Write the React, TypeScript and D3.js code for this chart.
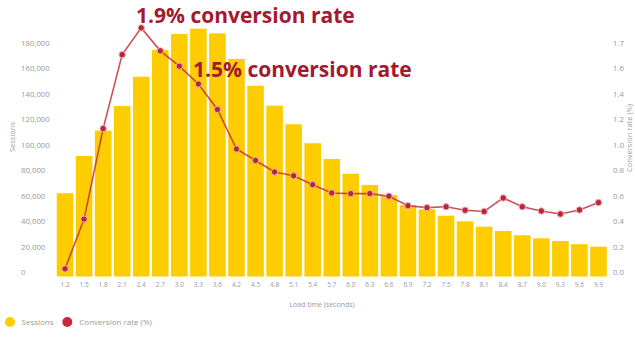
import React from "react";
import * as d3 from "d3";

const loadTimes = ["1.2","1.5","1.8","2.1","2.4","2.7","3.0","3.3","3.6","4.2","4.5","4.8","5.1","5.4","5.7","6.0","6.3","6.6","6.9","7.2","7.5","7.8","8.1","8.4","8.7","9.0","9.3","9.6","9.9"];
const sessions = [65300,94500,114400,133700,156700,177600,190200,194400,190700,170600,149600,134000,119400,104500,92200,80600,71800,63900,56100,52700,47700,43300,39100,35700,32300,30000,27800,25300,23400];
const conversion = [0.06,0.45,1.16,1.74,1.95,1.77,1.65,1.51,1.31,1.0,0.91,0.82,0.79,0.72,0.655,0.65,0.65,0.63,0.555,0.54,0.547,0.52,0.51,0.616,0.547,0.514,0.49,0.522,0.58];
const leftTicks = [0,20000,40000,60000,80000,100000,120000,140000,160000,180000];
const rightTicks = [0,0.2,0.4,0.6,0.8,1.0,1.2,1.4,1.6,1.8];
const rightTickLabels = ["0.0","0.2","0.4","0.6","0.8","1.0","1.2","1.4","1.6","1.7"];
const annotations = [
  { text: "1.9% conversion rate", idx: 4 },
  { text: "1.5% conversion rate", idx: 7 },
];

const W = 635, H = 341;
const BAR = "#fdcd00";
const RED = "#c62f3c";
const DARKRED = "#a4192d";
const GREY = "#999999";
const FONT = "'Open Sans', sans-serif";

export default function App() {
  const x = d3.scaleBand<string>().domain(loadTimes).range([55.5, 608]).paddingInner(0.13).paddingOuter(0.065);
  const yL = d3.scaleLinear().domain([0, 180000]).range([276.5, 47]);
  const yR = d3.scaleLinear().domain([0, 1.8]).range([276.5, 47]);
  const cx = (i: number) => (x(loadTimes[i]) as number) + x.bandwidth() / 2;
  const line = d3.line<number>().x((_, i) => cx(i)).y((d) => yR(d));
  const fmt = d3.format(",");

  const annPos = [
    { x: 136, y: 22.5 },
    { x: 193, y: 77 },
  ];

  return (
    <svg width={W} height={H} style={{ position: "fixed", left: 0, top: 0, background: "#fff" }} fontFamily={FONT}>
      <rect x={0} y={0} width={W} height={H} fill="#fff" />
      {sessions.map((v, i) => (
        <rect key={i} x={x(loadTimes[i])} y={yL(v)} width={x.bandwidth()} height={yL(0) - yL(v)} fill={BAR} />
      ))}
      <path d={line(conversion) || ""} fill="none" stroke={RED} strokeWidth={1.6} strokeOpacity={0.85} />
      {conversion.map((v, i) => (
        <circle key={i} cx={cx(i)} cy={yR(v)} r={3.2} fill="#b3283a" stroke="#f3b2b2" strokeWidth={1} />
      ))}
      {leftTicks.map((t) => (
        <text key={t} x={21} y={yL(t) - 4} dy="0.35em" fontSize={7.8} fill={GREY}>{fmt(t)}</text>
      ))}
      {rightTicks.map((t, i) => (
        <text key={t} x={613} y={yR(t) - 4} dy="0.35em" fontSize={7.8} fill={GREY}>{rightTickLabels[i]}</text>
      ))}
      {loadTimes.map((l, i) => (
        <text key={l} x={cx(i)} y={285} dy="0.35em" textAnchor="middle" fontSize={6.5} fill={GREY}>{l}</text>
      ))}
      <text x={322} y={305} dy="0.35em" textAnchor="middle" fontSize={7} fill={GREY}>Load time (seconds)</text>
      <text transform="translate(12,137) rotate(-90)" textAnchor="middle" dy="0.35em" fontSize={7.5} fill={GREY}>Sessions</text>
      <text transform="translate(629,138) rotate(-90)" textAnchor="middle" dy="0.35em" fontSize={7.5} fill={GREY}>Conversion rate (%)</text>
      {annotations.map((a, i) => (
        <text key={a.text} x={annPos[i].x} y={annPos[i].y} fontSize={21} fontWeight={700} fill={DARKRED}>{a.text}</text>
      ))}
      <circle cx={10} cy={322} r={5} fill={BAR} />
      <text x={21.5} y={322} dy="0.35em" fontSize={8} fill={GREY}>Sessions</text>
      <circle cx={67.3} cy={322} r={5} fill="#c8283a" />
      <text x={79.3} y={322} dy="0.35em" fontSize={8} fill={GREY}>Conversion rate (%)</text>
    </svg>
  );
}
